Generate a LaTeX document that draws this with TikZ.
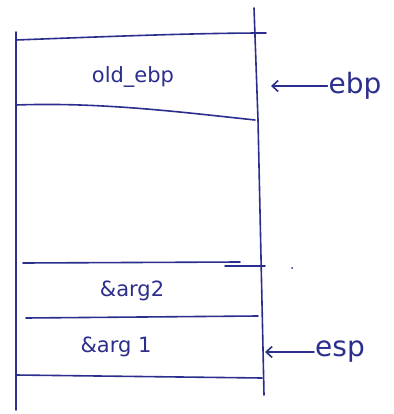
\documentclass[tikz,border=0pt]{standalone}
\usepackage{fontspec}
\setmainfont{DejaVu Sans}
\usetikzlibrary{arrows.meta}
\definecolor{ink}{HTML}{2B2E8C}
\begin{document}
\begin{tikzpicture}[x=1pt,y=-1pt,
  pen/.style={draw=ink, line width=1.6pt, line cap=round},
  cell/.style={text=ink, font=\fontsize{21}{24}\selectfont, inner sep=1pt},
  reg/.style={text=ink, font=\fontsize{28}{30}\selectfont, inner sep=1pt},
  ptr/.style={pen, -{Straight Barb[length=6pt,width=11pt]}}]
\useasboundingbox (0,0) rectangle (393,414);
% stack frame
\draw[pen] (16,32) -- (16,410);
\draw[pen] (254,8) -- (258,120) -- (264,395);
\draw[pen] (16,40) .. controls (120,36) and (200,33) .. (266,33);
\draw[pen] (16,105) .. controls (100,102) and (180,112) .. (255,120);
\draw[pen] (23,263) -- (240,262);
\draw[pen] (225,266) -- (265,266);
\draw[pen] (26,318) -- (258,316);
\draw[pen] (16,375) -- (262,378);
% cell labels
\node[cell] (old) at (133,77) {old\_ebp};
\node[cell] (a2) at (132,291) {\&arg2};
\node[cell] (a1) at (116,347) {\&arg 1};
% registers
\node[reg] (ebp) at (355,86) {ebp};
\coordinate (ebpt) at (271,86);
\node[reg] (esp) at (340,352) {esp};
\coordinate (espt) at (265,352);
\draw[ptr] (ebp.west) -- (ebpt);
\draw[ptr] (esp.west) -- (espt);
\fill[ink] (292,268) circle (1);
\end{tikzpicture}
\end{document}
